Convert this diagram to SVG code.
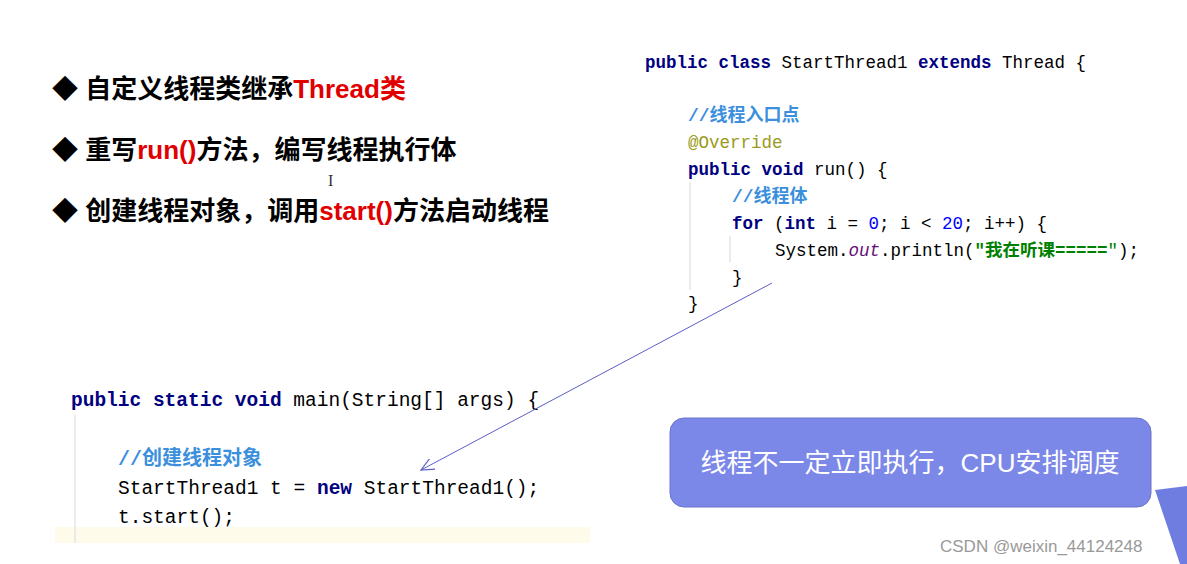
<svg xmlns="http://www.w3.org/2000/svg" width="1187" height="564" viewBox="0 0 1187 564">
<style>
.b{font-family:"Liberation Sans","Noto Sans CJK SC",sans-serif;font-weight:bold;font-size:26px;fill:#000}
.r{fill:#e00000}
.c{font-family:"Liberation Mono","Noto Sans CJK SC",monospace;font-size:17.5px;fill:#000}
.c2{font-family:"Liberation Mono","Noto Sans CJK SC",monospace;font-size:19.5px;fill:#000}
.k{fill:#000080;font-weight:bold}
.cm{fill:#3b8fdc;font-weight:bold;font-family:"Liberation Mono","Noto Sans CJK SC",monospace}
.g{stroke:#e4e4e4;stroke-width:1.5}
</style>
<defs><marker id="ah" markerWidth="14" markerHeight="12" refX="13" refY="6" orient="auto" markerUnits="userSpaceOnUse"><path d="M0,0 L13,6 L0,12" fill="none" stroke="#5b5fc7" stroke-width="1.2"/></marker></defs>
<rect width="1187" height="564" fill="#fff"/>
<g id="bullets">
<text class="b" x="52" y="98">◆ 自定义线程类继承<tspan class="r">Thread类</tspan></text>
<text class="b" x="52" y="159">◆ 重写<tspan class="r">run()</tspan>方法，编写线程执行体</text>
<text class="b" x="52" y="220">◆ 创建线程对象，调用<tspan class="r">start()</tspan>方法启动线程</text>
<text x="328" y="186" font-family="Liberation Serif" font-size="16" fill="#333">I</text>
</g>
<g id="thread-code">
<line class="g" x1="690" y1="182" x2="690" y2="290"/>
<line class="g" x1="730" y1="236" x2="730" y2="262"/>
<text class="c" x="645" y="68"><tspan class="k">public class</tspan> StartThread1 <tspan class="k">extends</tspan> Thread {</text>
<text class="cm" x="688" y="121" font-size="18">//线程入口点</text>
<text class="c" x="688" y="148" fill="#9a9a20" style="fill:#9a9a20">@Override</text>
<text class="c" x="688" y="175"><tspan class="k">public void</tspan> run() {</text>
<text class="cm" x="732" y="202" font-size="18">//线程体</text>
<text class="c" x="732" y="229"><tspan class="k">for</tspan> (<tspan class="k">int</tspan> i = <tspan fill="#0000ff">0</tspan>; i &lt; <tspan fill="#0000ff">20</tspan>; i++) {</text>
<text class="c" x="775" y="256">System.<tspan font-style="italic" fill="#660e7a">out</tspan>.println(<tspan fill="#008000" font-weight="bold">"我在听课=====</tspan><tspan fill="#008000">"</tspan>);</text>
<text class="c" x="732" y="283">}</text>
<text class="c" x="688" y="309">}</text>
</g>
<g id="main-code">
<rect x="55" y="527" width="535" height="16" fill="#fffbea"/>
<line class="g" x1="75" y1="415" x2="75" y2="543"/>
<text class="c2" x="71" y="406"><tspan class="k">public static void</tspan> main(String[] args) {</text>
<text class="cm" x="118" y="465" font-size="20">//创建线程对象</text>
<text class="c2" x="118" y="494">StartThread1 t = <tspan class="k">new</tspan> StartThread1();</text>
<text class="c2" x="118" y="523">t.start();</text>
</g>
<g id="connectors">
<line x1="772" y1="283" x2="421" y2="470" stroke="#5b5fc7" stroke-width="1" marker-end="url(#ah)"/>
</g>
<g id="callout">
<rect x="670" y="418" width="481" height="89" rx="14" fill="#7b88e8" stroke="#6a74c8"/>
<text x="910" y="472" text-anchor="middle" font-family="Liberation Sans,Noto Sans CJK SC,sans-serif" font-size="26" fill="#fff">线程不一定立即执行，CPU安排调度</text>
<path d="M1155,490 L1187,486 L1187,564 L1180,564 Z" fill="#6f7de0"/>
</g>
<text x="940" y="552" font-family="Liberation Sans,sans-serif" font-size="17" fill="#999">CSDN @weixin_44124248</text>
</svg>
